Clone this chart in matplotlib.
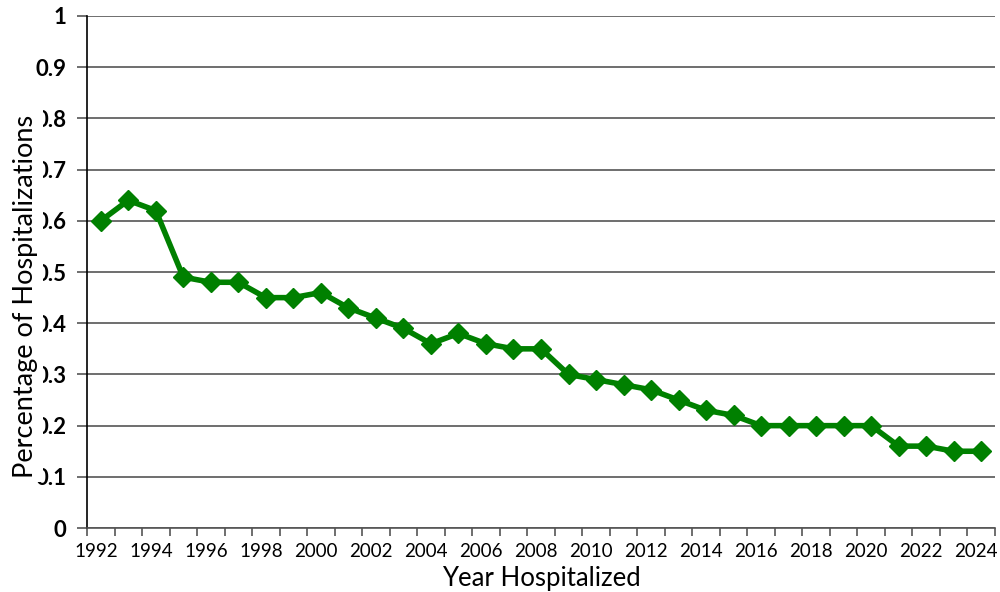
import matplotlib
matplotlib.use('Agg')
import matplotlib.pyplot as plt
import matplotlib.transforms as mtrans
import numpy as np

years = list(range(1992, 2025))
pct = [0.60, 0.64, 0.62, 0.49, 0.48, 0.48, 0.45, 0.45, 0.46, 0.43,
       0.41, 0.39, 0.36, 0.38, 0.36, 0.35, 0.35, 0.30, 0.29, 0.28,
       0.27, 0.25, 0.23, 0.22, 0.20, 0.20, 0.20, 0.20, 0.20, 0.16,
       0.16, 0.15, 0.15]
ytick_labels = ['0', '0.1', '0.2', '0.3', '0.4', '0.5', '0.6', '0.7', '0.8', '0.9', '1']

plt.rcParams['font.family'] = ['Lato', 'DejaVu Sans']

fig = plt.figure(figsize=(10, 5.92), dpi=100)
ax = fig.add_axes([0.087, 0.108, 0.908, 0.865])

x = np.arange(len(years))
ax.plot(x, pct, '-', color='#008000', lw=4, marker='D', ms=10, zorder=3)

ax.set_xlim(-0.5, len(years) - 0.5)
ax.set_ylim(0, 1)

# y axis: grid lines plus outward ticks
yt = np.linspace(0, 1, 11)
ax.set_yticks(yt)
ax.set_yticklabels(ytick_labels, fontsize=16, fontweight='bold')
ax.tick_params(axis='y', length=7, width=1.2, color='#555555', pad=8)
ax.grid(axis='y', color='#555555', lw=1.2)
ax.set_axisbelow(True)

# x axis: labels every other year at category centres, marks at boundaries
ax.set_xticks(x[::2])
ax.set_xticklabels([str(y) for y in years[::2]], fontsize=13.5)
ax.set_xticks(np.arange(len(years) + 1) - 0.5, minor=True)
ax.tick_params(axis='x', which='major', length=0, pad=11)
ax.tick_params(axis='x', which='minor', length=6, width=1.2, color='#555555')
shift = mtrans.ScaledTranslation(-5 / 100, 0, fig.dpi_scale_trans)
for lab in ax.get_xticklabels():
    lab.set_transform(lab.get_transform() + shift)

for s in ['top', 'right']:
    ax.spines[s].set_visible(False)
ax.spines['left'].set_color('black')
ax.spines['left'].set_linewidth(1.2)
ax.spines['bottom'].set_color('#555555')
ax.spines['bottom'].set_linewidth(1.2)

ax.set_xlabel('Year Hospitalized', fontsize=18.5, labelpad=4)

# y label sits on a white box that hides part of the tick labels
fig.text(0.026, 0.50, 'Percentage of Hospitalizations', rotation=90,
         fontsize=19.5, ha='center', va='center',
         bbox=dict(facecolor='white', edgecolor='none', pad=3))

fig.savefig('out.png', dpi=100)
